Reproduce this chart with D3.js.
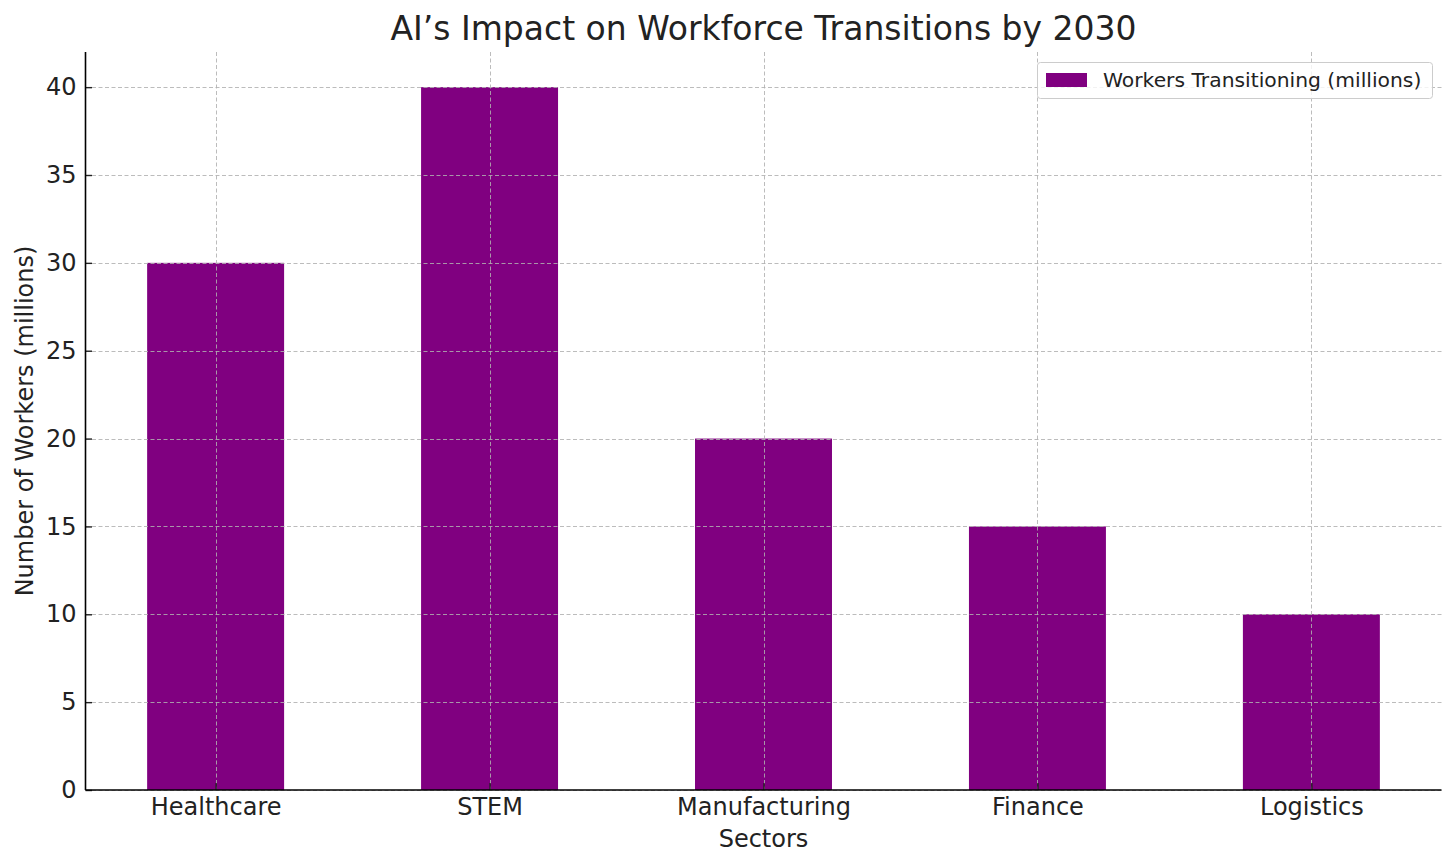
<!DOCTYPE html>
<html><head><meta charset="utf-8">
<script src="https://cdn.jsdelivr.net/npm/d3@7"></script>
<style>body{margin:0;background:#fff}svg{display:block}text{font-family:"DejaVu Sans",sans-serif;fill:#222}</style>
</head><body><svg id="c" width="1456" height="868"></svg>
<script>
const categories = ["Healthcare","STEM","Manufacturing","Finance","Logistics"];
const values = [30,40,20,15,10];
const yTicks = [0,5,10,15,20,25,30,35,40];
const seriesName = "Workers Transitioning (millions)";
const title = "AI’s Impact on Workforce Transitions by 2030";
const xLabel = "Sectors";
const yLabel = "Number of Workers (millions)";

const svg = d3.select("#c");
const L = 85.5, R = 1441.5, T = 52, B = 790;
const x = d3.scaleLinear().domain([-0.475, categories.length - 1 + 0.475]).range([L, R]);
const y = d3.scaleLinear().domain([0, 42]).range([B, T]);
const bw = x(0.5) - x(0);

// bars
svg.append("g").selectAll("rect").data(values).join("rect")
  .attr("x", (d,i) => x(i) - bw/2).attr("width", bw)
  .attr("y", d => y(d)).attr("height", d => B - y(d))
  .attr("fill", "#800080");

// grid (on top)
const grid = svg.append("g").attr("stroke", "#b0b0b0").attr("stroke-opacity", 0.85)
  .attr("stroke-width", 1).attr("stroke-dasharray", "4,2.5");
grid.selectAll(".gy").data(yTicks).join("line")
  .attr("x1", L).attr("x2", R).attr("y1", d => Math.round(y(d))+0.5).attr("y2", d => Math.round(y(d))+0.5);
grid.selectAll(".gx").data(categories).join("line")
  .attr("y1", T).attr("y2", B).attr("x1", (d,i) => Math.round(x(i))+0.5).attr("x2", (d,i) => Math.round(x(i))+0.5);

// axes (ticks point inward)
const yAxis = d3.axisLeft(y).tickValues(yTicks).tickSize(-6.5).tickPadding(9);
const gy = svg.append("g").attr("transform", `translate(${L},0)`).call(yAxis);
const xAxis = d3.axisBottom(x).tickValues(d3.range(categories.length)).tickFormat(i => categories[i]).tickSize(-7).tickPadding(8);
const gx = svg.append("g").attr("transform", `translate(0,${B})`).call(xAxis);
[gx, gy].forEach(g => {
  g.select(".domain").remove();
  g.selectAll(".tick line").attr("stroke", "#222").attr("stroke-width", 1.4);
  g.selectAll(".tick text").attr("font-size", 24).attr("fill", "#222").style("font-family", "DejaVu Sans");
});
svg.append("line").attr("x1", L).attr("x2", L).attr("y1", T).attr("y2", B).attr("stroke", "#000").attr("stroke-width", 1.6);
svg.append("line").attr("x1", L).attr("x2", R).attr("y1", B).attr("y2", B).attr("stroke", "#000").attr("stroke-width", 1.6);

// labels
svg.append("text").attr("x", (L+R)/2).attr("y", 40).attr("text-anchor", "middle").attr("font-size", 33).text(title);
svg.append("text").attr("x", (L+R)/2).attr("y", 847).attr("text-anchor", "middle").attr("font-size", 24).text(xLabel);
svg.append("text").attr("transform", `translate(33,${(T+B)/2}) rotate(-90)`).attr("text-anchor", "middle").attr("font-size", 24).text(yLabel);

// legend
const lg = svg.append("g");
lg.append("rect").attr("x", 1037.5).attr("y", 62.5).attr("width", 395).attr("height", 36).attr("rx", 3)
  .attr("fill", "#fff").attr("fill-opacity", 0.8).attr("stroke", "#cccccc");
lg.append("rect").attr("x", 1046).attr("y", 73).attr("width", 41).attr("height", 14).attr("fill", "#800080");
lg.append("text").attr("x", 1103).attr("y", 87).attr("font-size", 20.3).text(seriesName);
</script></body></html>
